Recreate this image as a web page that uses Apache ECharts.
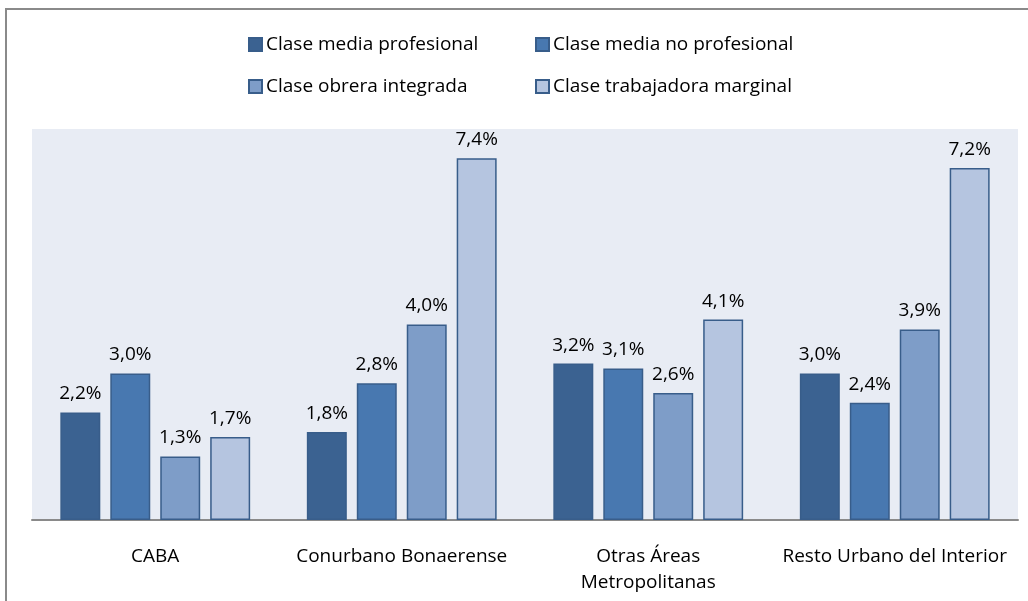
<!DOCTYPE html>
<html>
<head>
<meta charset="utf-8">
<script src="https://cdn.jsdelivr.net/npm/echarts@6/dist/echarts.min.js"></script>
<style>
  html, body { margin: 0; padding: 0; background: #fff; }
  #chart { width: 1028px; height: 601px; }
</style>
</head>
<body>
<div id="chart"></div>
<script>
// datos
var regiones = ['CABA', 'Conurbano Bonaerense', 'Otras Áreas\nMetropolitanas', 'Resto Urbano del Interior']
var clases = ['Clase media profesional', 'Clase media no profesional', 'Clase obrera integrada', 'Clase trabajadora marginal']
var mediaProfesional = [2.2, 1.8, 3.2, 3.0]
var mediaNoProfesional = [3.0, 2.8, 3.1, 2.4]
var obreraIntegrada = [1.3, 4.0, 2.6, 3.9]
var trabajadoraMarginal = [1.7, 7.4, 4.1, 7.2]
var colores = ['#3B6291', '#4878B0', '#7E9DC8', '#B5C5E0']

var fuente = '"Open Sans", Lato, sans-serif'
var valores = [mediaProfesional, mediaNoProfesional, obreraIntegrada, trabajadoraMarginal]

var chart = echarts.init(document.getElementById('chart'))

// una leyenda por item para alinear las columnas
var legendPos = [
  { left: 248, top: 35 },
  { left: 535, top: 35 },
  { left: 248, top: 77 },
  { left: 535, top: 77 }
]

var option = {
  animation: false,
  graphic: [{
    type: 'rect',
    shape: { x: 6, y: 9, width: 1100, height: 700 },
    style: { fill: 'none', stroke: '#8a8a8a', lineWidth: 2 },
    silent: true
  }],
  legend: clases.map(function (c, i) {
    return {
      data: [c],
      left: legendPos[i].left,
      top: legendPos[i].top,
      icon: 'rect',
      itemWidth: 13,
      itemHeight: 13,
      itemGap: 6,
      padding: 0,
      selectedMode: false,
      textStyle: { fontFamily: fuente, fontSize: 19, color: '#000', padding: [0, 0, 0, -1] }
    }
  }),
  grid: {
    left: 32,
    right: 10,
    top: 129,
    bottom: 81,
    show: true,
    backgroundColor: '#E8ECF4',
    borderWidth: 0
  },
  xAxis: {
    type: 'category',
    data: regiones,
    axisTick: { show: false },
    axisLine: { lineStyle: { color: '#8a8a8a', width: 2 } },
    axisLabel: {
      interval: 0,
      margin: 24,
      fontFamily: fuente,
      fontSize: 19,
      color: '#000',
      lineHeight: 26
    }
  },
  yAxis: {
    type: 'value',
    min: 0,
    max: 8,
    show: false,
    splitLine: { show: false }
  },
  series: clases.map(function (c, i) {
    return {
      name: c,
      type: 'bar',
      data: valores[i],
      barGap: '25%',
      barCategoryGap: '23%',
      itemStyle: { color: colores[i], borderColor: '#385D8A', borderWidth: 1.5 },
      label: {
        show: true,
        position: 'top',
        distance: 9,
        fontFamily: fuente,
        fontSize: 19,
        color: '#000',
        formatter: function (p) {
          return p.value.toFixed(1).replace('.', ',') + '%'
        }
      }
    }
  })
}

chart.setOption(option)
</script>
</body>
</html>
